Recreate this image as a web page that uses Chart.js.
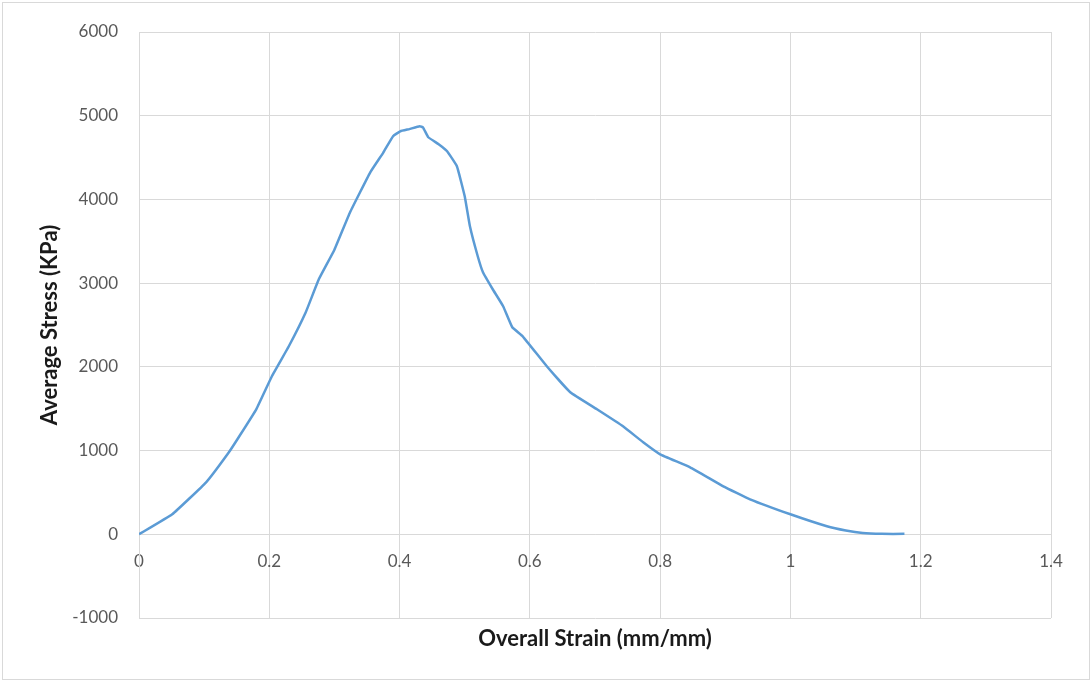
<!DOCTYPE html>
<html>
<head>
<meta charset="utf-8">
<script src="https://cdn.jsdelivr.net/npm/chart.js@4/dist/chart.umd.min.js"></script>
<style>
  html, body { margin: 0; padding: 0; background: #fff; }
  #wrap { position: relative; width: 1092px; height: 682px; }
</style>
</head>
<body>
<div id="wrap"><canvas id="stressChart"></canvas></div>
<script>
// stress-strain curve, read point by point
const strain = [0, 0.051, 0.103, 0.138, 0.154, 0.180, 0.204, 0.230, 0.256, 0.276,
  0.300, 0.324, 0.355, 0.375, 0.390, 0.401, 0.415, 0.431, 0.436, 0.444,
  0.460, 0.473, 0.488, 0.500, 0.508, 0.520, 0.528, 0.543, 0.559, 0.573,
  0.589, 0.626, 0.662, 0.703, 0.743, 0.774, 0.800, 0.846, 0.897, 0.938,
  1.000, 1.056, 1.085, 1.111, 1.140, 1.175];
const stress = [0, 239, 621, 980, 1171, 1493, 1888, 2246, 2652, 3046,
  3400, 3847, 4324, 4560, 4755, 4814, 4840, 4874, 4860, 4743,
  4660, 4575, 4396, 4038, 3679, 3321, 3130, 2927, 2724, 2473,
  2365, 2007, 1696, 1493, 1290, 1099, 955, 800, 573, 418,
  239, 96, 45, 15, 5, 5];

const xTicks = [0, 0.2, 0.4, 0.6, 0.8, 1, 1.2, 1.4];
const yTicks = [-1000, 0, 1000, 2000, 3000, 4000, 5000, 6000];

const points = strain.map((s, i) => ({x: s, y: stress[i]}));

const gridColor = '#d9d9d9';
const tickFont = {family: 'Lato', size: 17};
const titleFont = {family: 'Lato', size: 22, weight: 'bold'};

// thin frame round the whole chart
const framePlugin = {
  id: 'frame',
  afterDraw(chart) {
    const ctx = chart.ctx;
    ctx.save();
    ctx.strokeStyle = '#d9d9d9';
    ctx.lineWidth = 1;
    ctx.strokeRect(2.5, 2.5, chart.width - 5, chart.height - 5);
    ctx.restore();
  }
};

new Chart(document.getElementById('stressChart'), {
  type: 'scatter',
  data: {
    datasets: [{
      data: points,
      showLine: true,
      borderColor: '#5b9bd5',
      borderWidth: 2.5,
      pointRadius: 0,
      tension: 0.1
    }]
  },
  plugins: [framePlugin],
  options: {
    responsive: true,
    maintainAspectRatio: false,
    animation: false,
    layout: { padding: { top: 32, right: 41, left: 0, bottom: 0 } },
    plugins: {
      legend: { display: false },
      tooltip: { enabled: false }
    },
    scales: {
      x: {
        type: 'linear',
        position: { y: 0 },
        min: 0,
        max: 1.4,
        afterBuildTicks: s => { s.ticks = xTicks.map(v => ({value: v})); },
        grid: { color: gridColor, drawTicks: false },
        border: { color: gridColor },
        ticks: {
          color: '#595959',
          font: tickFont,
          padding: 17,
          maxRotation: 0,
          callback: v => String(+v.toFixed(1))
        }
      },
      x2: {
        type: 'linear',
        position: 'bottom',
        min: 0,
        max: 1.4,
        grid: { display: false },
        border: { display: false },
        ticks: { display: false },
        title: {
          display: true,
          text: 'Overall Strain (mm/mm)',
          color: '#1a1a1a',
          font: titleFont,
          padding: { top: 0, bottom: 30 }
        },
        afterFit: s => { s.height = 64; }
      },
      y: {
        type: 'linear',
        position: 'left',
        min: -1000,
        max: 6000,
        afterBuildTicks: s => { s.ticks = yTicks.map(v => ({value: v})); },
        grid: { color: gridColor, drawTicks: false },
        border: { color: gridColor },
        ticks: {
          color: '#595959',
          font: tickFont,
          padding: 21,
          callback: v => String(v)
        },
        title: {
          display: true,
          text: 'Average Stress (KPa)',
          color: '#1a1a1a',
          font: titleFont,
          padding: { top: 37, bottom: 0 }
        },
        afterFit: s => { s.width = 139; }
      }
    }
  }
});
</script>
</body>
</html>
